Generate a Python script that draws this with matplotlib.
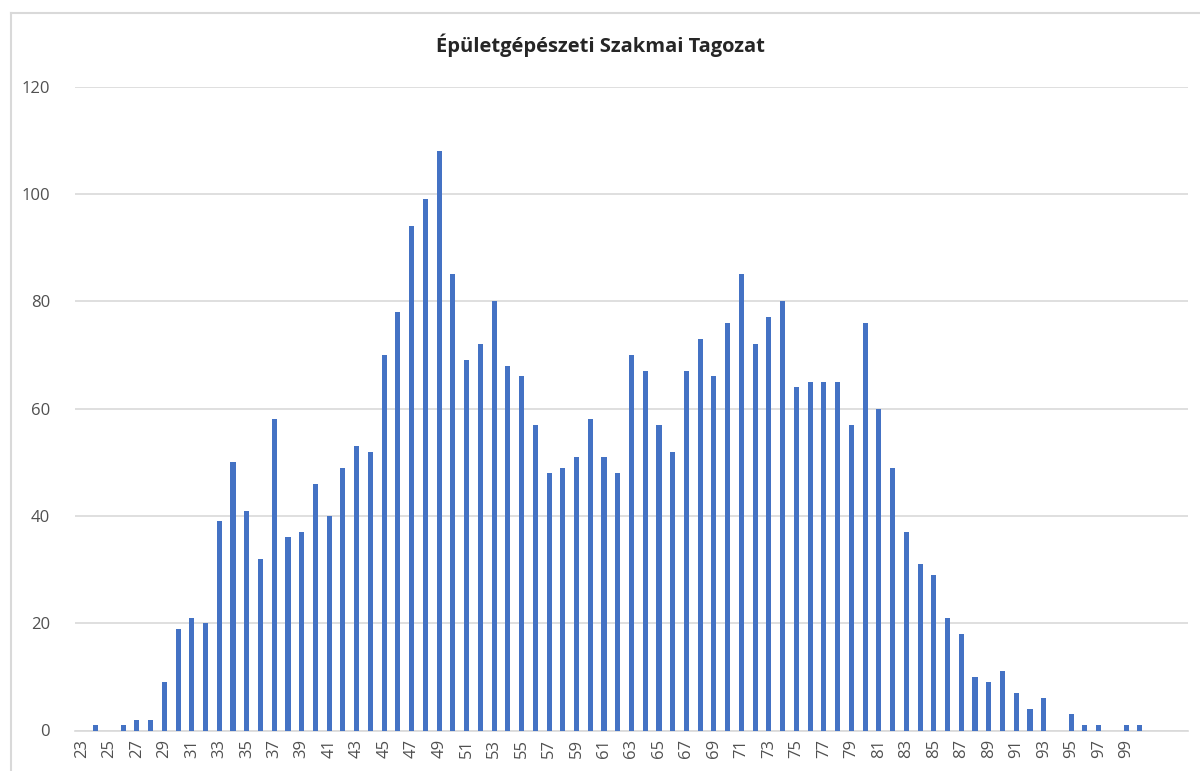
import matplotlib
matplotlib.use("Agg")
import matplotlib.pyplot as plt
from matplotlib.lines import Line2D

title = "Épületgépészeti Szakmai Tagozat"
categories = list(range(23, 101))
values = [0, 1, 0, 1, 2, 2, 9, 19, 21, 20,
          39, 50, 41, 32, 58, 36, 37, 46, 40, 49,
          53, 52, 70, 78, 94, 99, 108, 85, 69, 72,
          80, 68, 66, 57, 48, 49, 51, 58, 51, 48,
          70, 67, 57, 52, 67, 73, 66, 76, 85, 72,
          77, 80, 64, 65, 65, 65, 57, 76, 60, 49,
          37, 31, 29, 21, 18, 10, 9, 11, 7, 4,
          6, 0, 3, 1, 1, 0, 1, 1]
yticks = [0, 20, 40, 60, 80, 100, 120]

plt.rcParams['font.family'] = ['Open Sans', 'DejaVu Sans']

fig = plt.figure(figsize=(12, 7.71), dpi=100)
ax = fig.add_axes([75/1200, 1-730.5/771, (1188-75)/1200, (730.5-86.7)/771])

x = list(range(len(categories)))
ax.bar(x, values, width=0.37, color='#4472C4', zorder=3)

ax.set_xlim(-0.5, 80.5)
ax.set_ylim(0, 120)
ax.set_yticks(yticks)
ax.set_yticklabels([str(v) for v in yticks], fontsize=12, color='#505050')
ax.set_xticks(x[::2])
ax.set_xticklabels([str(c) for c in categories[::2]], rotation=90, fontsize=12, color='#505050')
ax.tick_params(axis='both', length=0)
ax.tick_params(axis='y', pad=18)
ax.tick_params(axis='x', pad=6)
ax.grid(axis='y', color='#d9d9d9', linewidth=1.2, zorder=0)
for s in ['top', 'right', 'left']:
    ax.spines[s].set_visible(False)
ax.spines['bottom'].set_color('#d9d9d9')
ax.spines['bottom'].set_linewidth(1.2)
ax.spines['bottom'].set_zorder(1)

fig.text(0.5, 1-45/771, title, ha='center', va='center', fontsize=14.5,
         fontweight='bold', color='#262626')

# chart outer frame (left and top visible)
fig.add_artist(Line2D([10.5/1200, 10.5/1200], [0, 1-12.7/771], transform=fig.transFigure,
                      color='#d9d9d9', linewidth=1.5))
fig.add_artist(Line2D([10.5/1200, 1], [1-12.7/771, 1-12.7/771], transform=fig.transFigure,
                      color='#d9d9d9', linewidth=1.5))

fig.savefig('out.png', dpi=100)
